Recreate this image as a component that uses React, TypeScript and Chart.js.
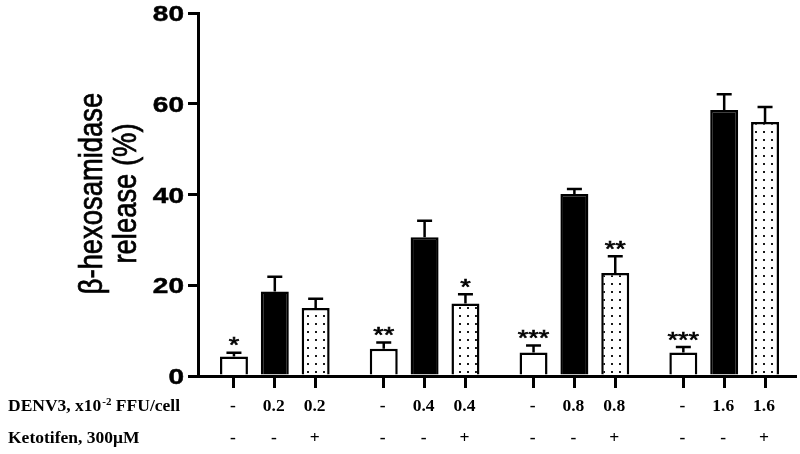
import React, { useEffect, useRef } from "react";
import { Chart, registerables } from "chart.js";

Chart.register(...registerables);

// ---- data ----
const doses = ["0.2", "0.4", "0.8", "1.6"];
const controlValues = [4.3, 6.0, 5.2, 5.2];
const controlErrors = [0.8, 1.4, 1.5, 1.2];
const controlStars = ["*", "**", "***", "***"];
const denvValues = [18.6, 30.6, 40.1, 58.6];
const denvErrors = [3.3, 3.6, 1.1, 3.5];
const denvStars = ["", "", "", ""];
const ketoValues = [15.0, 16.0, 22.7, 56.0];
const ketoErrors = [2.0, 2.0, 3.7, 3.3];
const ketoStars = ["", "*", "**", ""];
const yTickValues = [0, 20, 40, 60, 80];
const yTitleLines = ["β-hexosamidase", "release (%)"];
const denvRowTitle = ["DENV3, x10", "-2", " FFU/cell"];
const ketoRowTitle = "Ketotifen, 300μM";

// ---- layout constants ----
const GROUP_STRIDE = 11;
const BAR_STRIDE = 3;

type Series = {
  name: string;
  offset: number;
  values: number[];
  errors: number[];
  stars: string[];
  denvLabel: (g: number) => string;
  ketoLabel: string;
  kind: "white" | "black" | "dots";
};

const series: Series[] = [
  { name: "Control", offset: 0, values: controlValues, errors: controlErrors, stars: controlStars, denvLabel: () => "-", ketoLabel: "-", kind: "white" },
  { name: "DENV3", offset: 1, values: denvValues, errors: denvErrors, stars: denvStars, denvLabel: (g) => doses[g], ketoLabel: "-", kind: "black" },
  { name: "DENV3 + Ketotifen", offset: 2, values: ketoValues, errors: ketoErrors, stars: ketoStars, denvLabel: (g) => doses[g], ketoLabel: "+", kind: "dots" },
];

const xPos = (s: Series, g: number) => g * GROUP_STRIDE + s.offset * BAR_STRIDE;
const allPositions: number[] = [];
doses.forEach((_, g) => series.forEach((s) => allPositions.push(xPos(s, g))));

function squeezedText(ctx: CanvasRenderingContext2D, text: string, x: number, y: number, sy: number, stroke = 0) {
  ctx.save();
  ctx.translate(x, y);
  ctx.scale(1, sy);
  ctx.fillText(text, 0, 0);
  if (stroke > 0) {
    ctx.lineWidth = stroke;
    ctx.strokeStyle = "#000";
    ctx.strokeText(text, 0, 0);
  }
  ctx.restore();
}

export default function App() {
  const canvasRef = useRef<HTMLCanvasElement | null>(null);

  useEffect(() => {
    const canvas = canvasRef.current;
    if (!canvas) return;
    const ctx0 = canvas.getContext("2d")!;

    const pc = document.createElement("canvas");
    pc.width = 8;
    pc.height = 8;
    const pctx = pc.getContext("2d")!;
    pctx.fillStyle = "#ffffff";
    pctx.fillRect(0, 0, 8, 8);
    pctx.fillStyle = "#1a1a1a";
    pctx.fillRect(3, 3, 2, 2);
    const dotPattern = ctx0.createPattern(pc, "repeat");

    const fillFor = (k: Series["kind"]) => (k === "white" ? "#ffffff" : k === "black" ? "#000000" : dotPattern);

    const overlay = {
      id: "overlay",
      afterDatasetsDraw(chart: any) {
        const { ctx } = chart;
        const xs = chart.scales.x;
        const ys = chart.scales.y;
        ctx.save();
        ctx.strokeStyle = "#000";
        ctx.fillStyle = "#000";
        ctx.lineWidth = 2.5;
        series.forEach((s) => {
          s.values.forEach((v, g) => {
            const px = xs.getPixelForValue(xPos(s, g));
            const top = ys.getPixelForValue(v);
            const et = ys.getPixelForValue(v + s.errors[g]);
            ctx.lineWidth = 2.5;
            ctx.beginPath();
            ctx.moveTo(px, top);
            ctx.lineTo(px, et);
            ctx.moveTo(px - 7.5, et);
            ctx.lineTo(px + 7.5, et);
            ctx.stroke();
            const star = s.stars[g];
            if (star) {
              ctx.font = "27px 'Liberation Sans', Arial, sans-serif";
              ctx.textAlign = "center";
              ctx.textBaseline = "alphabetic";
              squeezedText(ctx, star, px, et - 13 + 12.6, 0.82, 0.8);
            }
          });
        });
        ctx.restore();
      },
      afterDraw(chart: any) {
        const { ctx } = chart;
        const xs = chart.scales.x;
        const ys = chart.scales.y;
        ctx.save();
        ctx.fillStyle = "#000";
        // y tick labels
        ctx.font = "bold 28px 'Liberation Sans', Arial, sans-serif";
        ctx.textAlign = "right";
        ctx.textBaseline = "alphabetic";
        yTickValues.forEach((t) => {
          const py = ys.getPixelForValue(t);
          squeezedText(ctx, String(t), 184, py + 8, 0.78, 0.6);
        });
        // y title
        ctx.font = "33px 'Liberation Sans', Arial, sans-serif";
        ctx.textAlign = "center";
        const yc = (chart.chartArea.top + chart.chartArea.bottom) / 2 - 1;
        const baselines = [102, 136];
        yTitleLines.forEach((line, i) => {
          ctx.save();
          ctx.translate(baselines[i], yc);
          ctx.rotate(-Math.PI / 2);
          ctx.scale(0.83, 1);
          ctx.fillText(line, 0, 0);
          ctx.lineWidth = 0.7;
          ctx.strokeStyle = "#000";
          ctx.strokeText(line, 0, 0);
          ctx.restore();
        });
        // bottom rows
        const row1 = 410.5;
        const row2 = 443;
        ctx.textAlign = "left";
        const big = "bold 17.5px 'Liberation Serif', 'Times New Roman', serif";
        ctx.font = big;
        let x = 8;
        ctx.fillText(denvRowTitle[0], x, row1);
        x += ctx.measureText(denvRowTitle[0]).width + 1;
        ctx.font = "bold 11px 'Liberation Serif', 'Times New Roman', serif";
        ctx.fillText(denvRowTitle[1], x, row1 - 6);
        x += ctx.measureText(denvRowTitle[1]).width;
        ctx.font = big;
        ctx.fillText(denvRowTitle[2], x, row1);
        ctx.fillText(ketoRowTitle, 8, row2);
        ctx.textAlign = "center";
        series.forEach((s) => {
          s.values.forEach((_, g) => {
            const px = xs.getPixelForValue(xPos(s, g));
            ctx.fillText(s.denvLabel(g), px - 1, row1);
            ctx.fillText(s.ketoLabel, px - 1, row2);
          });
        });
        ctx.restore();
      },
    };

    const chart = new Chart(canvas, {
      type: "bar",
      data: {
        datasets: series.map((s) => ({
          label: s.name,
          data: s.values.map((v, g) => ({ x: xPos(s, g), y: v })),
          backgroundColor: fillFor(s.kind) as any,
          borderColor: "#000000",
          borderWidth: 2.5,
          grouped: false,
          barPercentage: 0.685,
          categoryPercentage: 1,
        })),
      },
      options: {
        animation: false,
        responsive: false,
        devicePixelRatio: 1,
        layout: { padding: { top: 13, right: 5, left: 0, bottom: 0 } },
        plugins: { legend: { display: false }, tooltip: { enabled: false } },
        scales: {
          x: {
            type: "linear",
            offset: false,
            min: -2.64,
            max: 41.2,
            afterBuildTicks: (axis: any) => {
              axis.ticks = allPositions.map((v) => ({ value: v }));
            },
            afterFit: (scale: any) => {
              scale.height = 78;
            },
            ticks: { display: false },
            grid: { display: true, offset: false, drawOnChartArea: false, drawTicks: true, tickLength: 12, lineWidth: 3, color: "#000" },
            border: { display: true, width: 3, color: "#000" },
          },
          y: {
            min: 0,
            max: 80,
            ticks: { display: false, stepSize: 20 },
            afterFit: (scale: any) => {
              scale.width = 198;
            },
            grid: { display: true, drawOnChartArea: false, drawTicks: true, tickLength: 10, lineWidth: 3, color: "#000" },
            border: { display: true, width: 3, color: "#000" },
          },
        },
      },
      plugins: [overlay],
    });

    return () => chart.destroy();
  }, []);

  return (
    <div style={{ position: "absolute", left: 0, top: 0, width: 800, height: 454, background: "#fff" }}>
      <canvas ref={canvasRef} width={800} height={454} style={{ display: "block" }} />
    </div>
  );
}
